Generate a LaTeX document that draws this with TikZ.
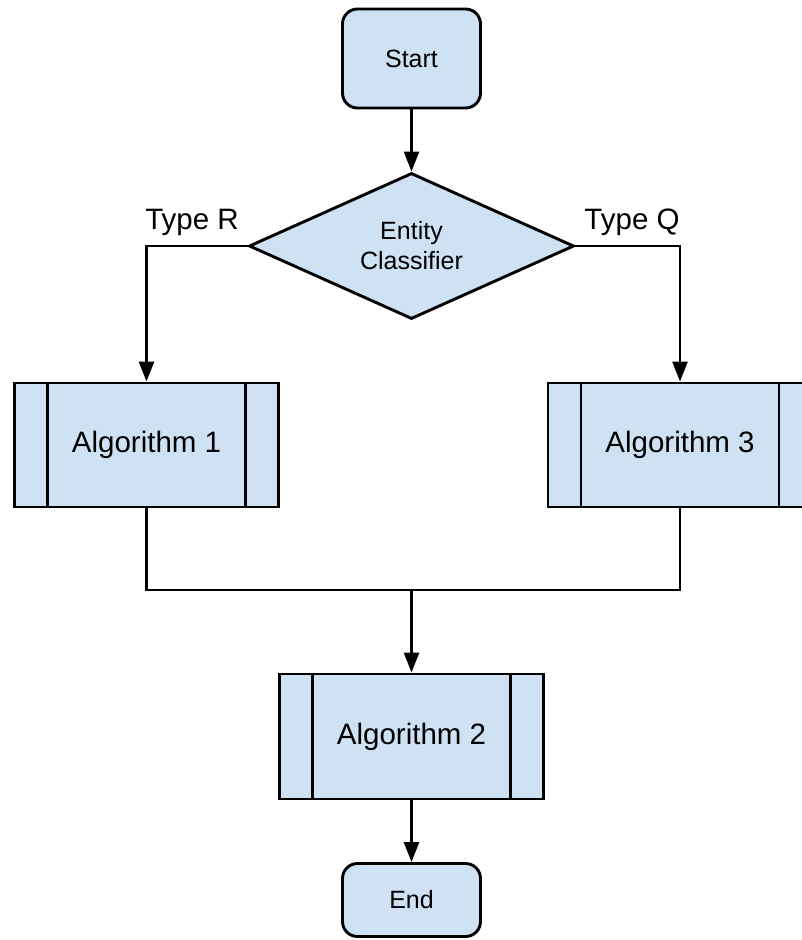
\documentclass[tikz,border=0pt]{standalone}
\usepackage{fontspec}
\setmainfont{Liberation Sans}
\usetikzlibrary{shapes.geometric,arrows.meta}
\definecolor{boxfill}{HTML}{CFE2F3}
\begin{document}
\begin{tikzpicture}[x=1pt,y=-1pt,
  base/.style={draw=black,fill=boxfill,line width=2.9pt,inner sep=0pt},
  term/.style={base,rounded corners=15pt,minimum width=138pt,font=\fontsize{25}{30}\selectfont},
  decide/.style={base,shape=diamond,aspect=2.226,minimum width=325pt,minimum height=146pt,align=center,font=\fontsize{25}{30}\selectfont},
  subr/.style={base,minimum width=264pt,minimum height=124pt,font=\fontsize{29.5}{34}\selectfont,
    path picture={
      \draw[line width=2.9pt] ([xshift=33pt]path picture bounding box.north west) -- ([xshift=33pt]path picture bounding box.south west);
      \draw[line width=2.9pt] ([xshift=-33pt]path picture bounding box.north east) -- ([xshift=-33pt]path picture bounding box.south east);
    }},
  lbl/.style={font=\fontsize{29.5}{34}\selectfont,inner sep=0pt},
  conn/.style={line width=2.6pt},
  arr/.style={conn,-{Triangle[length=20pt,width=15pt]}}
]
\useasboundingbox (0,0) rectangle (802,940);
\fill[white] (0,0) rectangle (802,940);

\node[term,minimum height=99pt] (start) at (411.5,58.5) {Start};
\node[decide] (cls) at (411.5,246) {Entity\\Classifier};
\node[subr] (alg1) at (146.5,445) {\raisebox{-3pt}{Algorithm 1}};
\node[subr] (alg3) at (680,445) {\raisebox{-3pt}{Algorithm 3}};
\node[subr,minimum height=125pt] (alg2) at (411.5,736.5) {\raisebox{-2pt}{Algorithm 2}};
\node[term,minimum height=73pt] (end) at (411.5,900) {End};

\node[lbl] (typer) at (192,222) {Type R};
\node[lbl] (typeq) at (632,222) {Type Q};

\coordinate (m) at (411.5,590);

\draw[arr] (start) -- (cls);
\draw[arr] (cls.west) -| (alg1.north);
\draw[arr] (cls.east) -| (alg3.north);
\draw[conn] (alg1.south) |- (m) -| (alg3.south);
\draw[arr] (m) -- (alg2.north);
\draw[arr] (alg2) -- (end);
\end{tikzpicture}
\end{document}
